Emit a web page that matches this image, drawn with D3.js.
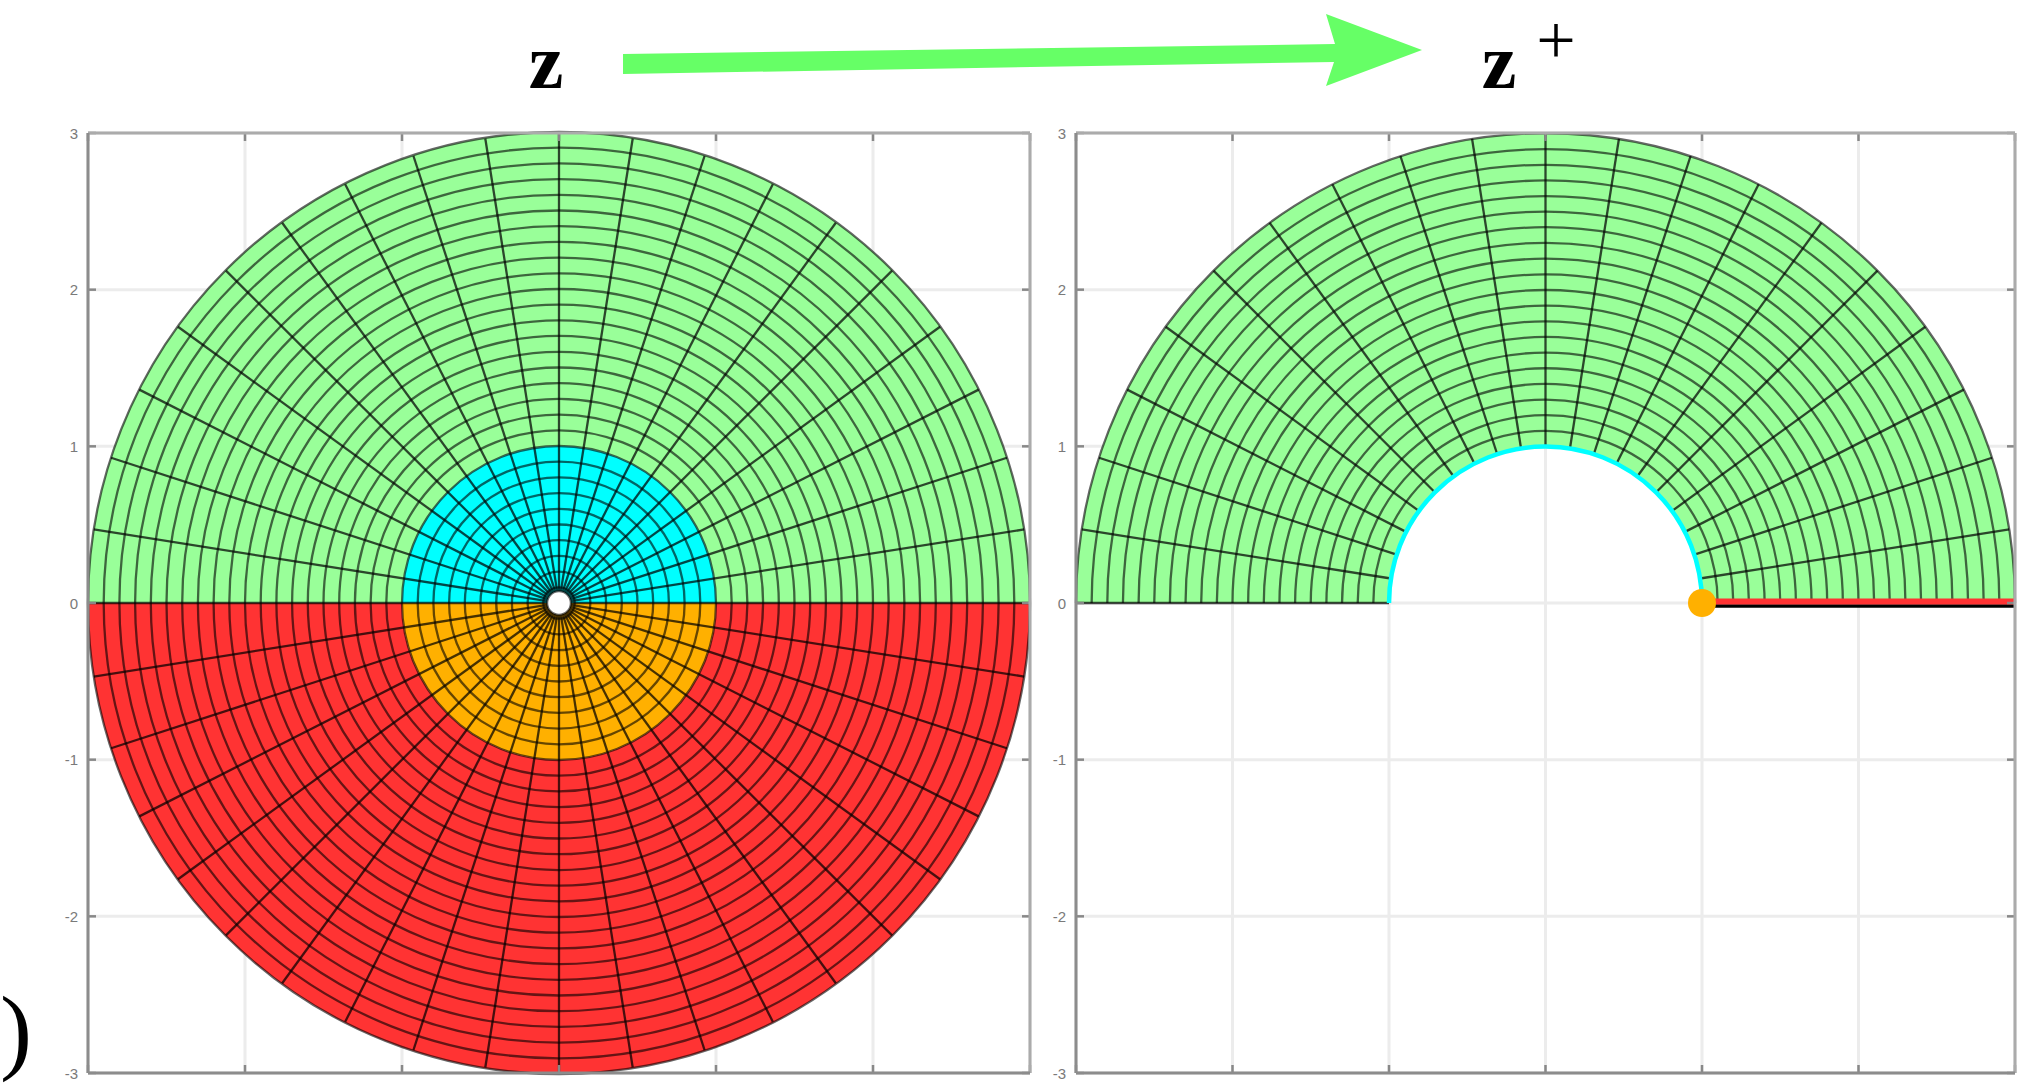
<!DOCTYPE html>
<html>
<head>
<meta charset="utf-8">
<script src="https://cdn.jsdelivr.net/npm/d3@7"></script>
<style>
  body { margin: 0; background: #fff; overflow: hidden; }
  svg { display: block; }
</style>
</head>
<body>
<div id="chart"></div>
<script>
// 1: DATA
const tickValues = [-3, -2, -1, 0, 1, 2, 3];
const tickLabels = ["-3", "-2", "-1", "0", "1", "2", "3"];

// radii of the mesh rings (polar grid in z)
const ringRadii = [0.1, 0.2, 0.3, 0.4, 0.5, 0.6, 0.7, 0.8, 0.9, 1.0,
                   1.1, 1.2, 1.3, 1.4, 1.5, 1.6, 1.7, 1.8, 1.9, 2.0,
                   2.1, 2.2, 2.3, 2.4, 2.5, 2.6, 2.7, 2.8, 2.9, 3.0];
// angles of the mesh spokes, degrees
const spokeAngles = [0, 9, 18, 27, 36, 45, 54, 63, 72, 81,
                     90, 99, 108, 117, 126, 135, 144, 153, 162, 171,
                     180, 189, 198, 207, 216, 225, 234, 243, 252, 261,
                     270, 279, 288, 297, 306, 315, 324, 333, 342, 351];
const holeRadius = 0.075;
const unitRadius = 1;
const outerRadius = 3;

// coloured pieces of the z disk: [inner r, outer r, half]
const zRegions = [
  { r0: unitRadius, r1: outerRadius, half: "upper", key: "green" },
  { r0: unitRadius, r1: outerRadius, half: "lower", key: "red" },
  { r0: holeRadius, r1: unitRadius, half: "upper", key: "cyan" },
  { r0: holeRadius, r1: unitRadius, half: "lower", key: "orange" }
];
// image z+ : only the upper half annulus
const zPlusRegions = [
  { r0: unitRadius, r1: outerRadius, half: "upper", key: "green" }
];
const redSegment = [1, 3];     // x-range of the red line on the real axis
const orangePoint = [1, 0];

const colors = { green: "#99ff99", red: "#ff3333", cyan: "#00ffff", orange: "#ffb000" };

// 2: LAYOUT
const W = 2036, H = 1091;
const svg = d3.select("#chart").append("svg")
  .attr("width", W).attr("height", H)
  .style("font-family", "'Liberation Sans', Arial, sans-serif");

const yScale = d3.scaleLinear().domain([-3, 3]).range([1073, 133]);
const xLeft = d3.scaleLinear().domain([-3, 3]).range([88, 1030]);
const xRight = d3.scaleLinear().domain([-3, 3]).range([1076, 2015]);

const halfAngles = { upper: [-Math.PI / 2, Math.PI / 2], lower: [Math.PI / 2, 3 * Math.PI / 2] };

function drawGrid(g, x) {
  g.selectAll(".gx").data(tickValues).enter().append("line")
    .attr("x1", d => x(d)).attr("x2", d => x(d))
    .attr("y1", yScale(3)).attr("y2", yScale(-3))
    .attr("stroke", "#ececec").attr("stroke-width", 3);
  g.selectAll(".gy").data(tickValues).enter().append("line")
    .attr("y1", d => yScale(d)).attr("y2", d => yScale(d))
    .attr("x1", x(-3)).attr("x2", x(3))
    .attr("stroke", "#ececec").attr("stroke-width", 3);
}

function drawBox(g, x) {
  const x0 = x(-3), x1 = x(3), y0 = yScale(3), y1 = yScale(-3);
  // ticks (inside, MATLAB style)
  tickValues.forEach(t => {
    g.append("line").attr("x1", x(t)).attr("x2", x(t)).attr("y1", y0).attr("y2", y0 + 8)
      .attr("stroke", "#888").attr("stroke-width", 2.5);
    g.append("line").attr("x1", x(t)).attr("x2", x(t)).attr("y1", y1).attr("y2", y1 - 8)
      .attr("stroke", "#888").attr("stroke-width", 2.5);
    g.append("line").attr("y1", yScale(t)).attr("y2", yScale(t)).attr("x1", x0).attr("x2", x0 + 8)
      .attr("stroke", "#888").attr("stroke-width", 2.5);
    g.append("line").attr("y1", yScale(t)).attr("y2", yScale(t)).attr("x1", x1).attr("x2", x1 - 8)
      .attr("stroke", "#888").attr("stroke-width", 2.5);
  });
  g.append("line").attr("x1", x0).attr("x2", x1).attr("y1", y0).attr("y2", y0).attr("stroke", "#ababab").attr("stroke-width", 3);
  g.append("line").attr("x1", x1).attr("x2", x1).attr("y1", y0).attr("y2", y1).attr("stroke", "#ababab").attr("stroke-width", 3);
  g.append("line").attr("x1", x0).attr("x2", x1).attr("y1", y1).attr("y2", y1).attr("stroke", "#8c8c8c").attr("stroke-width", 3);
  g.append("line").attr("x1", x0).attr("x2", x0).attr("y1", y0).attr("y2", y1).attr("stroke", "#8c8c8c").attr("stroke-width", 3);

  g.selectAll(".ylab").data(tickValues).enter().append("text")
    .attr("x", x0 - 10).attr("y", d => yScale(d))
    .attr("text-anchor", "end").attr("dominant-baseline", "central")
    .style("font-size", "15px").attr("fill", "#7a7a7a")
    .text((d, i) => tickLabels[i]);
}

function drawMesh(g, x, regions, upperOnly, rMin) {
  const k = x(1) - x(0), cx = x(0), cy = yScale(0);
  const arc = d3.arc();
  // filled sectors
  g.selectAll(".sector").data(regions).enter().append("path")
    .attr("transform", `translate(${cx},${cy})`)
    .attr("fill", d => colors[d.key])
    .attr("d", d => arc({
      innerRadius: d.r0 * k, outerRadius: d.r1 * k,
      startAngle: halfAngles[d.half][0], endAngle: halfAngles[d.half][1]
    }));

  const lineStyle = s => s.attr("fill", "none").attr("stroke", "#000")
    .attr("stroke-opacity", 0.6).attr("stroke-width", 2.3);

  // rings
  const rings = ringRadii.filter(r => r >= rMin - 1e-9);
  g.selectAll(".ring").data(rings).enter().append("path")
    .call(lineStyle)
    .attr("d", r => {
      const p = d3.path();
      if (upperOnly) {
        p.moveTo(cx - r * k, cy);
        p.arc(cx, cy, r * k, Math.PI, 2 * Math.PI);
      } else {
        p.moveTo(cx + r * k, cy);
        p.arc(cx, cy, r * k, 0, 2 * Math.PI);
      }
      return p.toString();
    });

  // spokes
  const spokes = spokeAngles.filter(a => !upperOnly || a <= 180);
  const r0 = upperOnly ? unitRadius : holeRadius;
  g.selectAll(".spoke").data(spokes).enter().append("line")
    .call(lineStyle)
    .attr("stroke-opacity", 0.72)
    .attr("x1", a => x(r0 * Math.cos(a * Math.PI / 180)))
    .attr("y1", a => yScale(r0 * Math.sin(a * Math.PI / 180)))
    .attr("x2", a => x(outerRadius * Math.cos(a * Math.PI / 180)))
    .attr("y2", a => yScale(outerRadius * Math.sin(a * Math.PI / 180)));
}

// 3: LEFT PANEL (z)
const gL = svg.append("g");
drawGrid(gL, xLeft);
drawMesh(gL, xLeft, zRegions, false, 0.1);
// central hole
gL.append("circle")
  .attr("cx", xLeft(0)).attr("cy", yScale(0))
  .attr("r", (xLeft(holeRadius) - xLeft(0)))
  .attr("fill", "#fff").attr("stroke", "#000").attr("stroke-opacity", 0.6).attr("stroke-width", 2);
drawBox(gL, xLeft);

// 4: RIGHT PANEL (z+)
const gR = svg.append("g");
drawGrid(gR, xRight);
drawMesh(gR, xRight, zPlusRegions, true, unitRadius);

// cyan image of the unit circle
const kR = xRight(1) - xRight(0);
gR.append("path")
  .attr("fill", "none").attr("stroke", colors.cyan).attr("stroke-width", 4.5)
  .attr("d", () => {
    const p = d3.path();
    p.moveTo(xRight(0) - unitRadius * kR, yScale(0));
    p.arc(xRight(0), yScale(0), unitRadius * kR, Math.PI, 2 * Math.PI);
    return p.toString();
  });
// black axis segment and red segment on the real axis
gR.append("line")
  .attr("x1", xRight(redSegment[0])).attr("x2", xRight(redSegment[1]))
  .attr("y1", yScale(0) + 3).attr("y2", yScale(0) + 3)
  .attr("stroke", "#000").attr("stroke-width", 3.5);
gR.append("line")
  .attr("x1", xRight(redSegment[0])).attr("x2", xRight(redSegment[1]))
  .attr("y1", yScale(0) - 1.5).attr("y2", yScale(0) - 1.5)
  .attr("stroke", colors.red).attr("stroke-width", 6);
gR.append("circle")
  .attr("cx", xRight(orangePoint[0])).attr("cy", yScale(orangePoint[1]))
  .attr("r", 14).attr("fill", colors.orange);
drawBox(gR, xRight);

// 5: HEADER  z  ---->  z+
const header = svg.append("g");
header.append("path")
  .attr("fill", "#66ff66")
  .attr("d", "M623,54 L1335,44 L1326,14 L1422,50 L1326,86 L1334,62 L623,74 Z");
header.append("text")
  .attr("x", 546).attr("y", 88)
  .attr("text-anchor", "middle")
  .style("font-family", "'Liberation Serif', 'DejaVu Serif', serif")
  .style("font-size", "78px").style("font-weight", "bold")
  .text("z");
header.append("text")
  .attr("x", 1499).attr("y", 88)
  .attr("text-anchor", "middle")
  .style("font-family", "'Liberation Serif', 'DejaVu Serif', serif")
  .style("font-size", "78px").style("font-weight", "bold")
  .text("z");
header.append("text")
  .attr("x", 1556).attr("y", 64)
  .attr("text-anchor", "middle")
  .style("font-family", "'Liberation Serif', 'DejaVu Serif', serif")
  .style("font-size", "70px")
  .text("+");

// panel label, only its closing parenthesis shows at the left edge
svg.append("text")
  .attr("x", 0).attr("y", 1062)
  .attr("text-anchor", "start")
  .style("font-family", "'Liberation Serif', 'DejaVu Serif', serif")
  .style("font-size", "96px")
  .text(")");
</script>
</body>
</html>
